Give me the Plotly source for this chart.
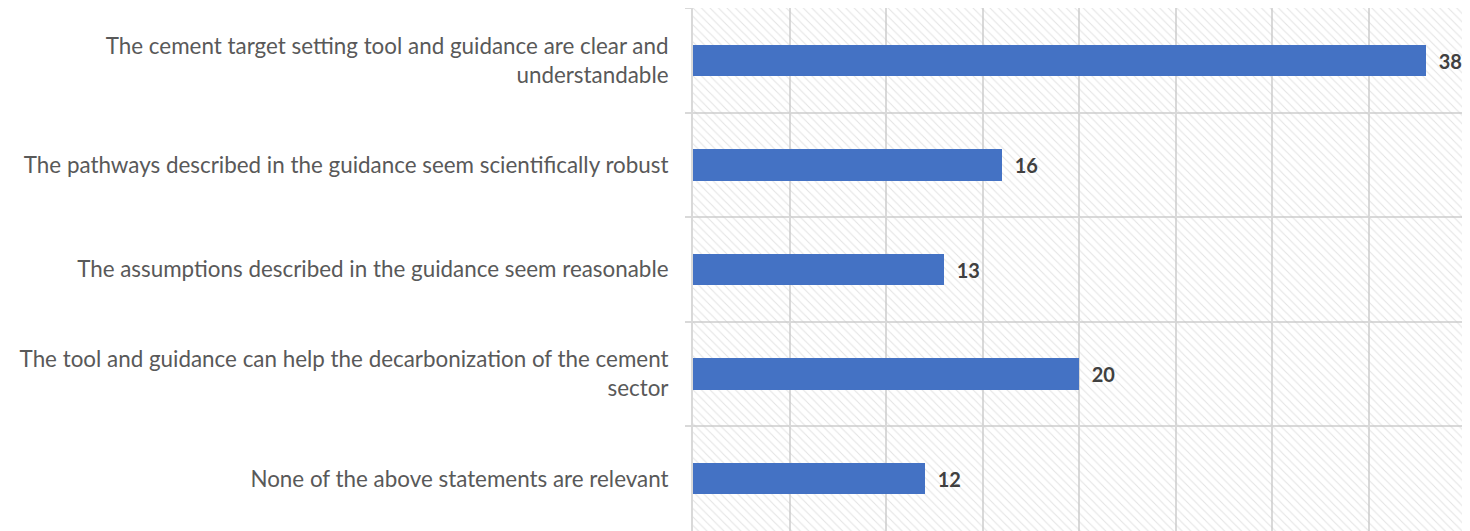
import plotly.graph_objects as go

categories = [
    "The cement target setting tool and guidance are clear and<br>understandable",
    "The pathways described in the guidance seem scientifically robust",
    "The assumptions described in the guidance seem reasonable",
    "The tool and guidance can help the decarbonization of the cement<br>sector",
    "None of the above statements are relevant",
]
values = [38, 16, 13, 20, 12]
axis_max = 40

fig = go.Figure()
# hatched plot background (one full-width band per category)
fig.add_trace(go.Bar(
    y=categories, x=[axis_max] * len(categories), orientation="h", width=1,
    marker=dict(color="rgba(0,0,0,0)", line=dict(width=0),
                pattern=dict(shape="\\", fgcolor="#c8c8c8", bgcolor="rgba(0,0,0,0)",
                             size=6, solidity=0.18)),
    hoverinfo="skip", showlegend=False,
))
fig.add_trace(go.Bar(
    y=categories, x=values, orientation="h", width=0.3,
    marker=dict(color="#4472C4", line=dict(width=0)),
    text=values, texttemplate="  %{text}", textposition="outside", cliponaxis=False,
    constraintext="none",
    textfont=dict(family="Lato", size=20, color="#404040", weight="bold"),
    showlegend=False,
))
fig.update_layout(
    width=1462, height=523,
    margin=dict(l=685, r=5, t=0, b=0, autoexpand=False),
    paper_bgcolor="white", plot_bgcolor="white",
    barmode="overlay", bargap=0,
    font=dict(family="Lato", size=22.4, color="#595959"),
)
fig.update_xaxes(range=[0, axis_max], dtick=5, showticklabels=False, showgrid=True,
                 gridcolor="#d9d9d9", gridwidth=2, zeroline=False, showline=True,
                 linecolor="#d9d9d9", linewidth=2, mirror=True, automargin=False)
fig.update_yaxes(autorange="reversed", tickson="boundaries", ticks="outside", ticklen=6,
                 tickcolor="#d9d9d9", tickwidth=2, showgrid=True, gridcolor="#d9d9d9",
                 gridwidth=2, showline=True, linecolor="#d9d9d9", linewidth=2, mirror=True,
                 ticklabelstandoff=18, automargin=False)
fig.write_html("out.html", post_script="document.body.style.overflow='hidden';")
